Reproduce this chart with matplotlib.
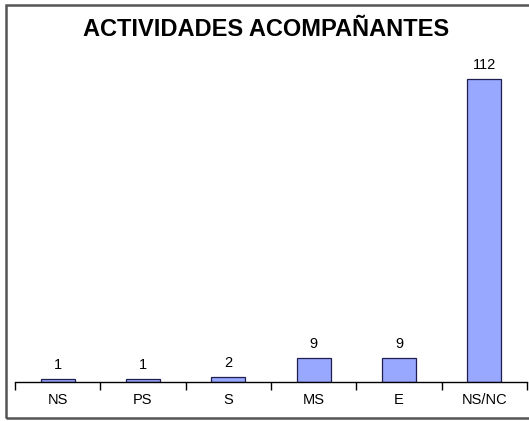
import matplotlib.pyplot as plt
import numpy as np
from matplotlib.patches import Rectangle

categories = ["NS", "PS", "S", "MS", "E", "NS/NC"]
values = [1, 1, 2, 9, 9, 112]

plt.rcParams["font.family"] = ["Liberation Sans", "DejaVu Sans"]

fig = plt.figure(figsize=(5.29, 4.21), dpi=100)
W, H = 529, 421

# outer chart frame
fig.patches.append(Rectangle((5.5 / W, 3 / H), 540 / W, (418 - 5) / H,
                             transform=fig.transFigure, fill=False,
                             edgecolor="#555555", linewidth=1.8))

ax = fig.add_axes([15 / W, (H - 382) / H, 512 / W, 325 / H])
x = np.arange(len(categories))
bars = ax.bar(x, values, 0.40, color="#99A8FF", edgecolor="#1F1F4F",
              linewidth=0.9)
ax.bar_label(bars, padding=5, fontsize=10.5)

ax.set_xlim(-0.5, len(categories) - 0.5)
ax.set_ylim(0, 120)
for s in ["top", "right", "left"]:
    ax.spines[s].set_visible(False)
ax.spines["bottom"].set_linewidth(1.0)
ax.set_yticks([])
ax.set_xticks(x, categories, fontsize=10.5)
ax.tick_params(axis="x", which="major", length=0, pad=8)
ax.set_xticks(np.arange(len(categories) + 1) - 0.5, minor=True)
ax.tick_params(axis="x", which="minor", length=6, width=1.0, direction="out")
ax.patch.set_alpha(0)

fig.text(266 / W, 1 - 29 / H, "ACTIVIDADES ACOMPAÑANTES", ha="center",
         va="center", fontsize=17, fontweight="bold")

fig.savefig("out.png", dpi=100)
